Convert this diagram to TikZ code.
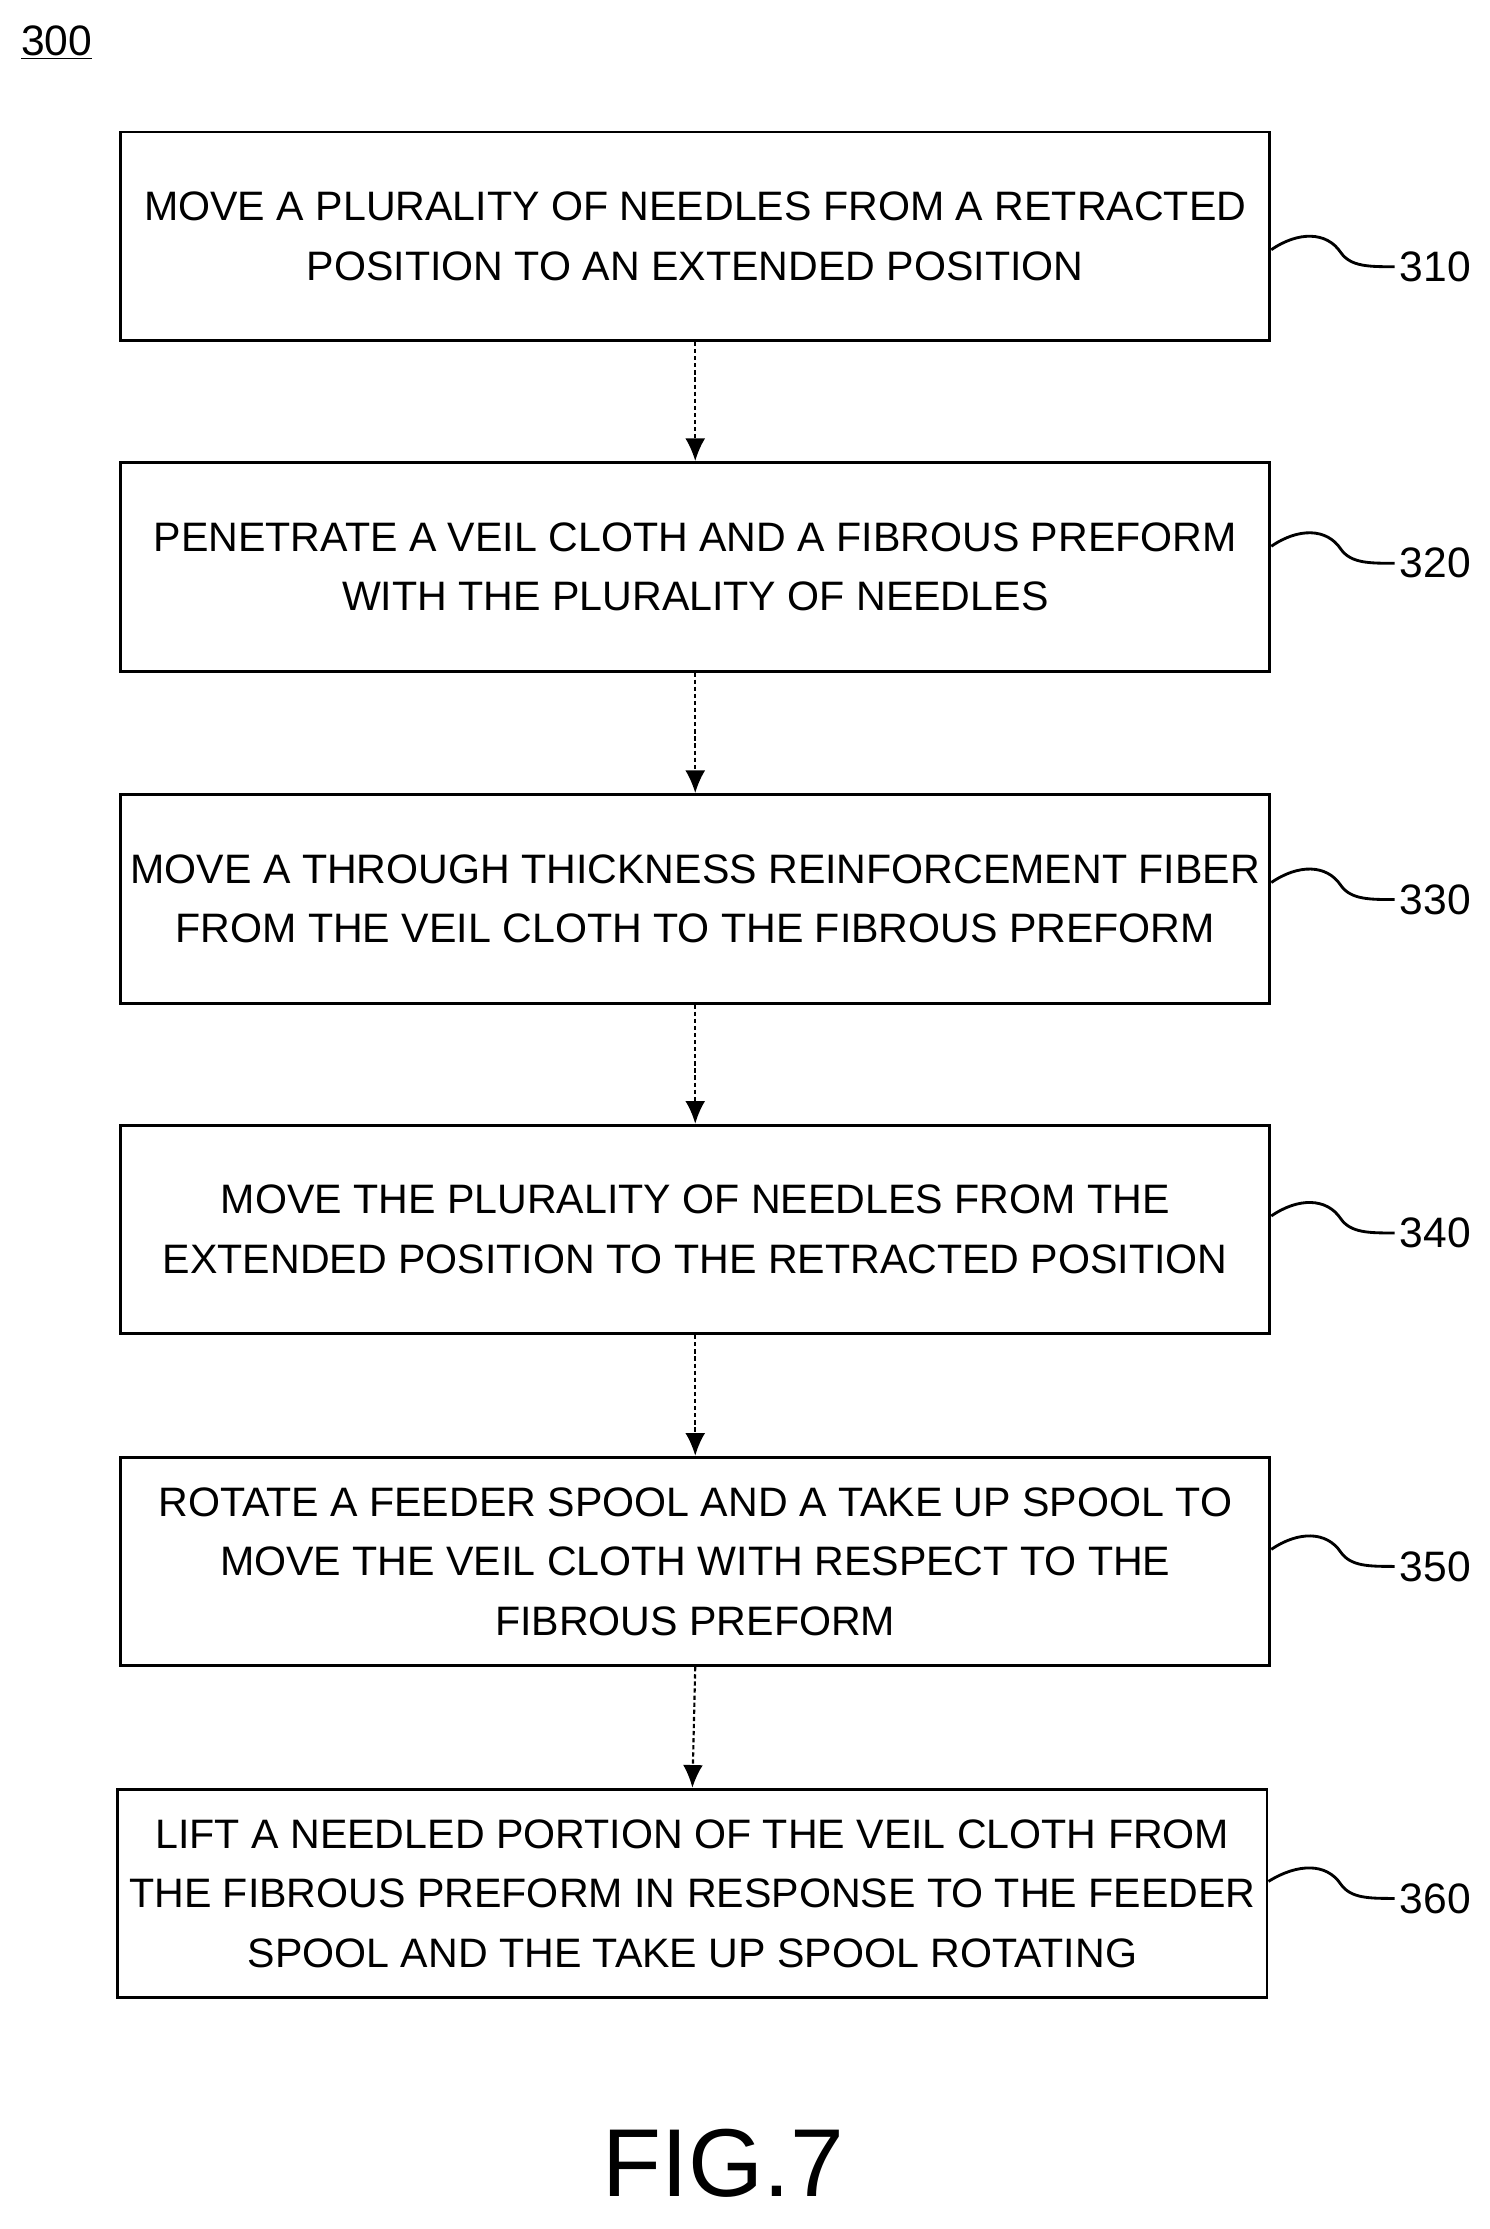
\documentclass[tikz,border=0pt]{standalone}
\usepackage{fontspec}
\usetikzlibrary{arrows.meta}
\setmainfont{Liberation Sans}
\begin{document}
\begin{tikzpicture}[x=1pt,y=-1pt,
 box/.style={draw,line width=2pt,minimum width=810pt,minimum height=147pt,align=center,font=\fontsize{29}{42}\selectfont,inner sep=0pt},
 arr/.style={line width=1.5pt,dash pattern=on 3pt off 2pt,-{Latex[length=16pt,width=14pt]}},
 lab/.style={font=\fontsize{30}{36}\selectfont},
 sq/.style={line width=2pt}]
\useasboundingbox (0,0) rectangle (1050,1571);
\node[font=\fontsize{30}{36}\selectfont] (n300) at (40,30) {\underline{300}};
\node[box] (b1) at (490,166.5) {MOVE A PLURALITY OF NEEDLES FROM A RETRACTED\\POSITION TO AN EXTENDED POSITION};
\node[box] (b2) at (490,399.5) {PENETRATE A VEIL CLOTH AND A FIBROUS PREFORM\\WITH THE PLURALITY OF NEEDLES};
\node[box] (b3) at (490,633.5) {MOVE A THROUGH THICKNESS REINFORCEMENT FIBER\\FROM THE VEIL CLOTH TO THE FIBROUS PREFORM};
\node[box] (b4) at (490,866.5) {MOVE THE PLURALITY OF NEEDLES FROM THE\\EXTENDED POSITION TO THE RETRACTED POSITION};
\node[box] (b5) at (490,1100.5) {ROTATE A FEEDER SPOOL AND A TAKE UP SPOOL TO\\MOVE THE VEIL CLOTH WITH RESPECT TO THE\\FIBROUS PREFORM};
\node[box] (b6) at (488,1334.5) {LIFT A NEEDLED PORTION OF THE VEIL CLOTH FROM\\THE FIBROUS PREFORM IN RESPONSE TO THE FEEDER\\SPOOL AND THE TAKE UP SPOOL ROTATING};
\foreach \a/\b in {b1/b2,b2/b3,b3/b4,b4/b5,b5/b6} \draw[arr] (\a.south) -- (\b.north);
\foreach \b/\t/\y in {b1/310/188,b2/320/397,b3/330/634,b4/340/869,b5/350/1104,b6/360/1338}{
 \node[lab,anchor=west] (l\t) at (983,\y) {\t};
 \draw[sq] (\b.east |- 0,\y-12) .. controls (915,\y-25) and (935,\y-25) .. (945,\y-10) .. controls (952,\y) and (965,\y) .. (l\t.west);
}
\node[font=\fontsize{68}{80}\selectfont] (fig) at (510,1525) {FIG.7};
\end{tikzpicture}
\end{document}
